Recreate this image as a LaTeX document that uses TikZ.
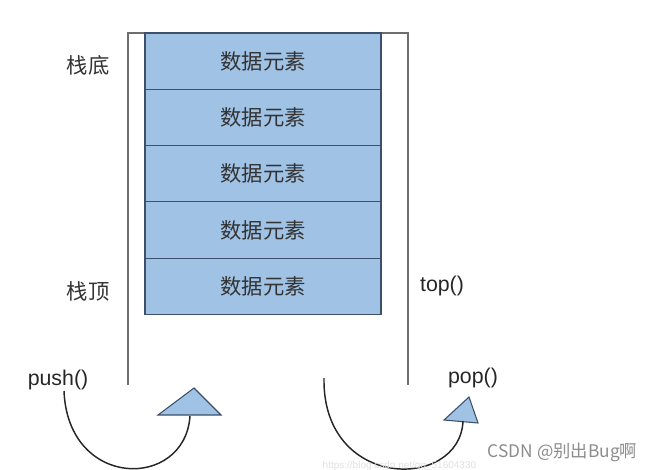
\documentclass[tikz,border=0pt]{standalone}
\usepackage{fontspec}
\setmainfont{Liberation Sans}
\newfontfamily\cjk{Noto Sans CJK SC}
\usetikzlibrary{positioning}

\definecolor{elemfill}{RGB}{160,194,229}
\definecolor{elemdraw}{RGB}{60,80,105}
\definecolor{wallgray}{RGB}{110,110,110}

\begin{document}
\begin{tikzpicture}[
  x=0.75pt, y=-0.75pt,
  node distance=0pt,
  elembox/.style={
    rectangle, draw=elemdraw, fill=elemfill, line width=0.9pt,
    minimum width=177pt, minimum height=42.2pt, outer sep=0pt,
    font=\cjk\fontsize{16}{19}\selectfont, text=black!80
  },
  sidelabel/.style={font=\cjk\fontsize{16}{19}\selectfont, text=black!80},
  oplabel/.style={font=\fontsize{16}{19}\selectfont, text=black!85},
  wall/.style={draw=wallgray, line width=1pt},
  curve/.style={draw=black!85, line width=1.1pt},
  arrowhead/.style={draw=elemdraw, fill=elemfill, line width=0.8pt, line join=miter},
]
  \useasboundingbox (0,0) rectangle (645,470);

  % Stack walls
  \draw[wall] (128,385) -- (128,33) -- (408,33) -- (408,385);

  % Stack elements
  \node[elembox] (e1) at (263,61.2) {数据元素};
  \node[elembox] (e2) [below=of e1] {数据元素};
  \node[elembox] (e3) [below=of e2] {数据元素};
  \node[elembox] (e4) [below=of e3] {数据元素};
  \node[elembox] (e5) [below=of e4] {数据元素};

  % Side labels
  \node[sidelabel] (bottom) at (88,65) {栈底};
  \node[sidelabel] (topl) at (88,291) {栈顶};
  \node[oplabel] (topop) at (442,286) {top()};
  \node[oplabel] (push) at (58,380) {push()};
  \node[oplabel] (pop) at (473,378) {pop()};

  % Arrow heads
  \filldraw[arrowhead] (158,415) -- (194,388) -- (221,415) -- cycle;
  \filldraw[arrowhead] (444,420) -- (469,397) -- (478,423) -- cycle;
  \coordinate (pushstart) at (64,391);
  \coordinate (pushend) at (190,416);
  \coordinate (popstart) at (324,378);
  \coordinate (popend) at (463,421);

  % Curves
  \draw[curve] (pushstart) .. controls (68,490) and (185,490) .. (pushend);
  \draw[curve] (popstart) .. controls (322,491) and (460,491) .. (popend);

  % Watermark
  \node[font=\fontsize{7.5}{9}\selectfont, text=black!12, anchor=west] (url) at (318,466) {https://blog.csdn.net/qq\_51604330};
  \node[font=\cjk\fontsize{13}{15}\selectfont, text=black!45, anchor=east] (mark) at (642,452) {CSDN @别出Bug啊};
\end{tikzpicture}
\end{document}
